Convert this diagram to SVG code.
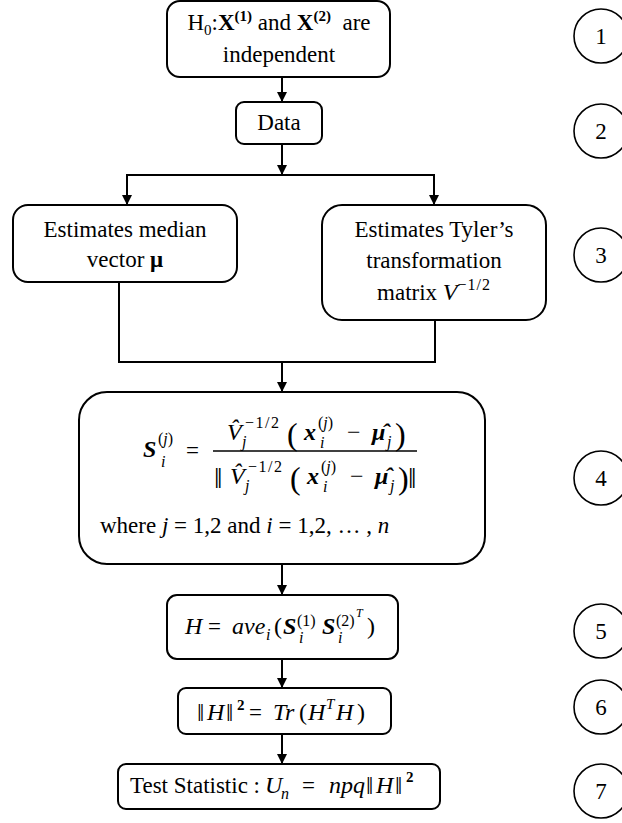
<svg xmlns="http://www.w3.org/2000/svg" width="622" height="823" viewBox="0 0 622 823">
<defs>
<style>
.box{fill:#fff;stroke:#000;stroke-width:2}
.ln{fill:none;stroke:#000;stroke-width:2}
.ar{fill:none;stroke:#000;stroke-width:2;marker-end:url(#ah)}
.cir{fill:#fff;stroke:#000;stroke-width:1.6}
text{font-family:"Liberation Serif","Times New Roman",serif;font-size:23px;fill:#000}
.m{font-style:italic;font-size:24px}
.up{font-size:24px;font-style:normal}
.b{font-weight:bold}
.bm{font-style:italic;font-weight:bold;font-size:24px}
.s{font-size:15px}
.sm{font-size:16px;font-style:italic;font-weight:normal}
.ss{font-size:16px;font-style:normal;font-weight:normal}
.tt{font-size:12px;font-style:italic}
.p{font-size:32px;font-style:normal}
.n{font-size:30px;font-style:normal}
.nn{font-size:26px;font-style:normal}
.c{text-anchor:middle}
</style>
<marker id="ah" markerUnits="userSpaceOnUse" markerWidth="10" markerHeight="11" refX="10" refY="5" orient="auto">
<path d="M0,0 L10,5 L0,10 z" fill="#000"/>
</marker>
</defs>
<rect width="622" height="823" fill="#fff"/>

<g id="connectors">
<line class="ar" x1="282" y1="77" x2="282" y2="102"/>
<line class="ar" x1="282" y1="144" x2="282" y2="175"/>
<line class="ln" x1="126" y1="175" x2="435" y2="175"/>
<line class="ar" x1="127" y1="175" x2="127" y2="205"/>
<line class="ar" x1="434" y1="175" x2="434" y2="205"/>
<polyline class="ln" points="119,282 119,362 435,362 435,320"/>
<line class="ar" x1="282" y1="362" x2="282" y2="392"/>
<line class="ar" x1="282" y1="564" x2="282" y2="595"/>
<line class="ar" x1="282" y1="659" x2="282" y2="688"/>
<line class="ar" x1="282" y1="734" x2="282" y2="764"/>
</g>

<g id="n1">
<rect class="box" x="167" y="1" width="223" height="76" rx="13"/>
<text x="279" y="30" class="c" xml:space="preserve">H<tspan class="s" dy="5">0</tspan><tspan dy="-5">:</tspan><tspan class="b">X</tspan><tspan class="s b" dy="-9">(1)</tspan><tspan dy="9"> and </tspan><tspan class="b">X</tspan><tspan class="s b" dy="-9">(2)</tspan><tspan dy="9">  are</tspan></text>
<text x="279" y="62" class="c">independent</text>
</g>

<g id="n2">
<rect class="box" x="236" y="102" width="86" height="42" rx="8"/>
<text x="279" y="130" class="c">Data</text>
</g>

<g id="n3a">
<rect class="box" x="13" y="205" width="224" height="77" rx="15"/>
<text x="125" y="237" class="c">Estimates median</text>
<text x="125" y="267" class="c">vector <tspan class="b">μ</tspan></text>
</g>

<g id="n3b">
<rect class="box" x="322" y="205" width="224" height="115" rx="20"/>
<text x="434" y="237" class="c">Estimates Tyler’s</text>
<text x="434" y="268" class="c">transformation</text>
<text x="434" y="300" class="c">matrix <tspan class="m">V</tspan><tspan class="ss" dy="-10" letter-spacing="1">−1/2</tspan></text>
</g>

<g id="n4">
<rect class="box" x="79" y="392" width="406" height="172" rx="28"/>
<text><tspan x="143" y="457" class="bm">S</tspan><tspan x="158" y="444" class="ss">(<tspan class="sm">j</tspan>)</tspan><tspan x="161" y="467" class="sm">i</tspan><tspan x="186" y="458">=</tspan></text>
<line x1="213" y1="451" x2="417" y2="451" stroke="#000" stroke-width="1.5"/>
<text><tspan x="227" y="440" class="m">V̂</tspan><tspan x="242" y="447" class="sm">j</tspan><tspan x="245" y="428" class="ss" letter-spacing="1.5">−1/2</tspan><tspan x="287" y="445" class="p">(</tspan><tspan x="304" y="440" class="bm">x</tspan><tspan x="318" y="428" class="ss">(<tspan class="sm">j</tspan>)</tspan><tspan x="320" y="448" class="sm">i</tspan><tspan x="347" y="440" class="up">−</tspan><tspan x="372" y="440" class="bm">μ̂</tspan><tspan x="387" y="447" class="sm">j</tspan><tspan x="395" y="445" class="p">)</tspan></text>
<text><tspan x="214" y="488" class="n">‖</tspan><tspan x="230" y="484" class="m">V̂</tspan><tspan x="245" y="491" class="sm">j</tspan><tspan x="248" y="472" class="ss" letter-spacing="1.5">−1/2</tspan><tspan x="290" y="489" class="p">(</tspan><tspan x="307" y="484" class="bm">x</tspan><tspan x="321" y="472" class="ss">(<tspan class="sm">j</tspan>)</tspan><tspan x="323" y="492" class="sm">i</tspan><tspan x="350" y="484" class="up">−</tspan><tspan x="375" y="484" class="bm">μ̂</tspan><tspan x="390" y="491" class="sm">j</tspan><tspan x="398" y="489" class="p">)</tspan><tspan x="408" y="488" class="n">‖</tspan></text>
<text x="100" y="533" xml:space="preserve">where <tspan font-style="italic">j</tspan> = 1,2 and <tspan font-style="italic">i</tspan> = 1,2, … , <tspan font-style="italic">n</tspan></text>
</g>

<g id="n5">
<rect class="box" x="167" y="595" width="231" height="64" rx="10"/>
<text><tspan x="185" y="634" class="m">H</tspan><tspan x="208" y="634">=</tspan><tspan x="232" y="634" class="m">ave</tspan><tspan x="266" y="640" class="sm">i</tspan><tspan x="274" y="634" class="up">(</tspan><tspan x="283" y="634" class="bm">S</tspan><tspan x="297" y="626" class="ss">(1)</tspan><tspan x="299" y="643" class="sm">i</tspan><tspan x="322" y="634" class="bm">S</tspan><tspan x="336" y="626" class="ss">(2)</tspan><tspan x="356" y="617" class="tt">T</tspan><tspan x="338" y="643" class="sm">i</tspan><tspan x="367" y="634" class="up">)</tspan></text>
</g>

<g id="n6">
<rect class="box" x="178" y="688" width="213" height="46" rx="8"/>
<text><tspan x="197" y="721" class="nn">‖</tspan><tspan x="207" y="720" class="m">H</tspan><tspan x="226" y="721" class="nn">‖</tspan><tspan x="237" y="710" class="s b">2</tspan><tspan x="249" y="720">=</tspan><tspan x="273" y="720" class="m">Tr</tspan><tspan x="299" y="720" class="up">(</tspan><tspan x="308" y="720" class="m">H</tspan><tspan x="326" y="709" class="sm" style="font-size:15px">T</tspan><tspan x="336" y="720" class="m">H</tspan><tspan x="357" y="720" class="up">)</tspan></text>
</g>

<g id="n7">
<rect class="box" x="118" y="764" width="322" height="45" rx="8"/>
<text><tspan x="130" y="793">Test Statistic :</tspan><tspan x="265" y="793" class="m">U</tspan><tspan x="281" y="799" class="sm">n</tspan><tspan x="302" y="793">=</tspan><tspan x="329" y="793" class="m">npq</tspan><tspan x="366" y="794" class="nn">‖</tspan><tspan x="376" y="793" class="m">H</tspan><tspan x="395" y="794" class="nn">‖</tspan><tspan x="406" y="782" class="s b">2</tspan></text>
</g>

<g id="labels">
<circle class="cir" cx="601" cy="36" r="27"/><text x="601" y="44" class="c">1</text>
<circle class="cir" cx="601" cy="131" r="27"/><text x="601" y="139" class="c">2</text>
<circle class="cir" cx="601" cy="255" r="27"/><text x="601" y="263" class="c">3</text>
<circle class="cir" cx="601" cy="478" r="27"/><text x="601" y="486" class="c">4</text>
<circle class="cir" cx="601" cy="631" r="27"/><text x="601" y="639" class="c">5</text>
<circle class="cir" cx="601" cy="707" r="27"/><text x="601" y="715" class="c">6</text>
<circle class="cir" cx="601" cy="791" r="27"/><text x="601" y="799" class="c">7</text>
</g>
</svg>
